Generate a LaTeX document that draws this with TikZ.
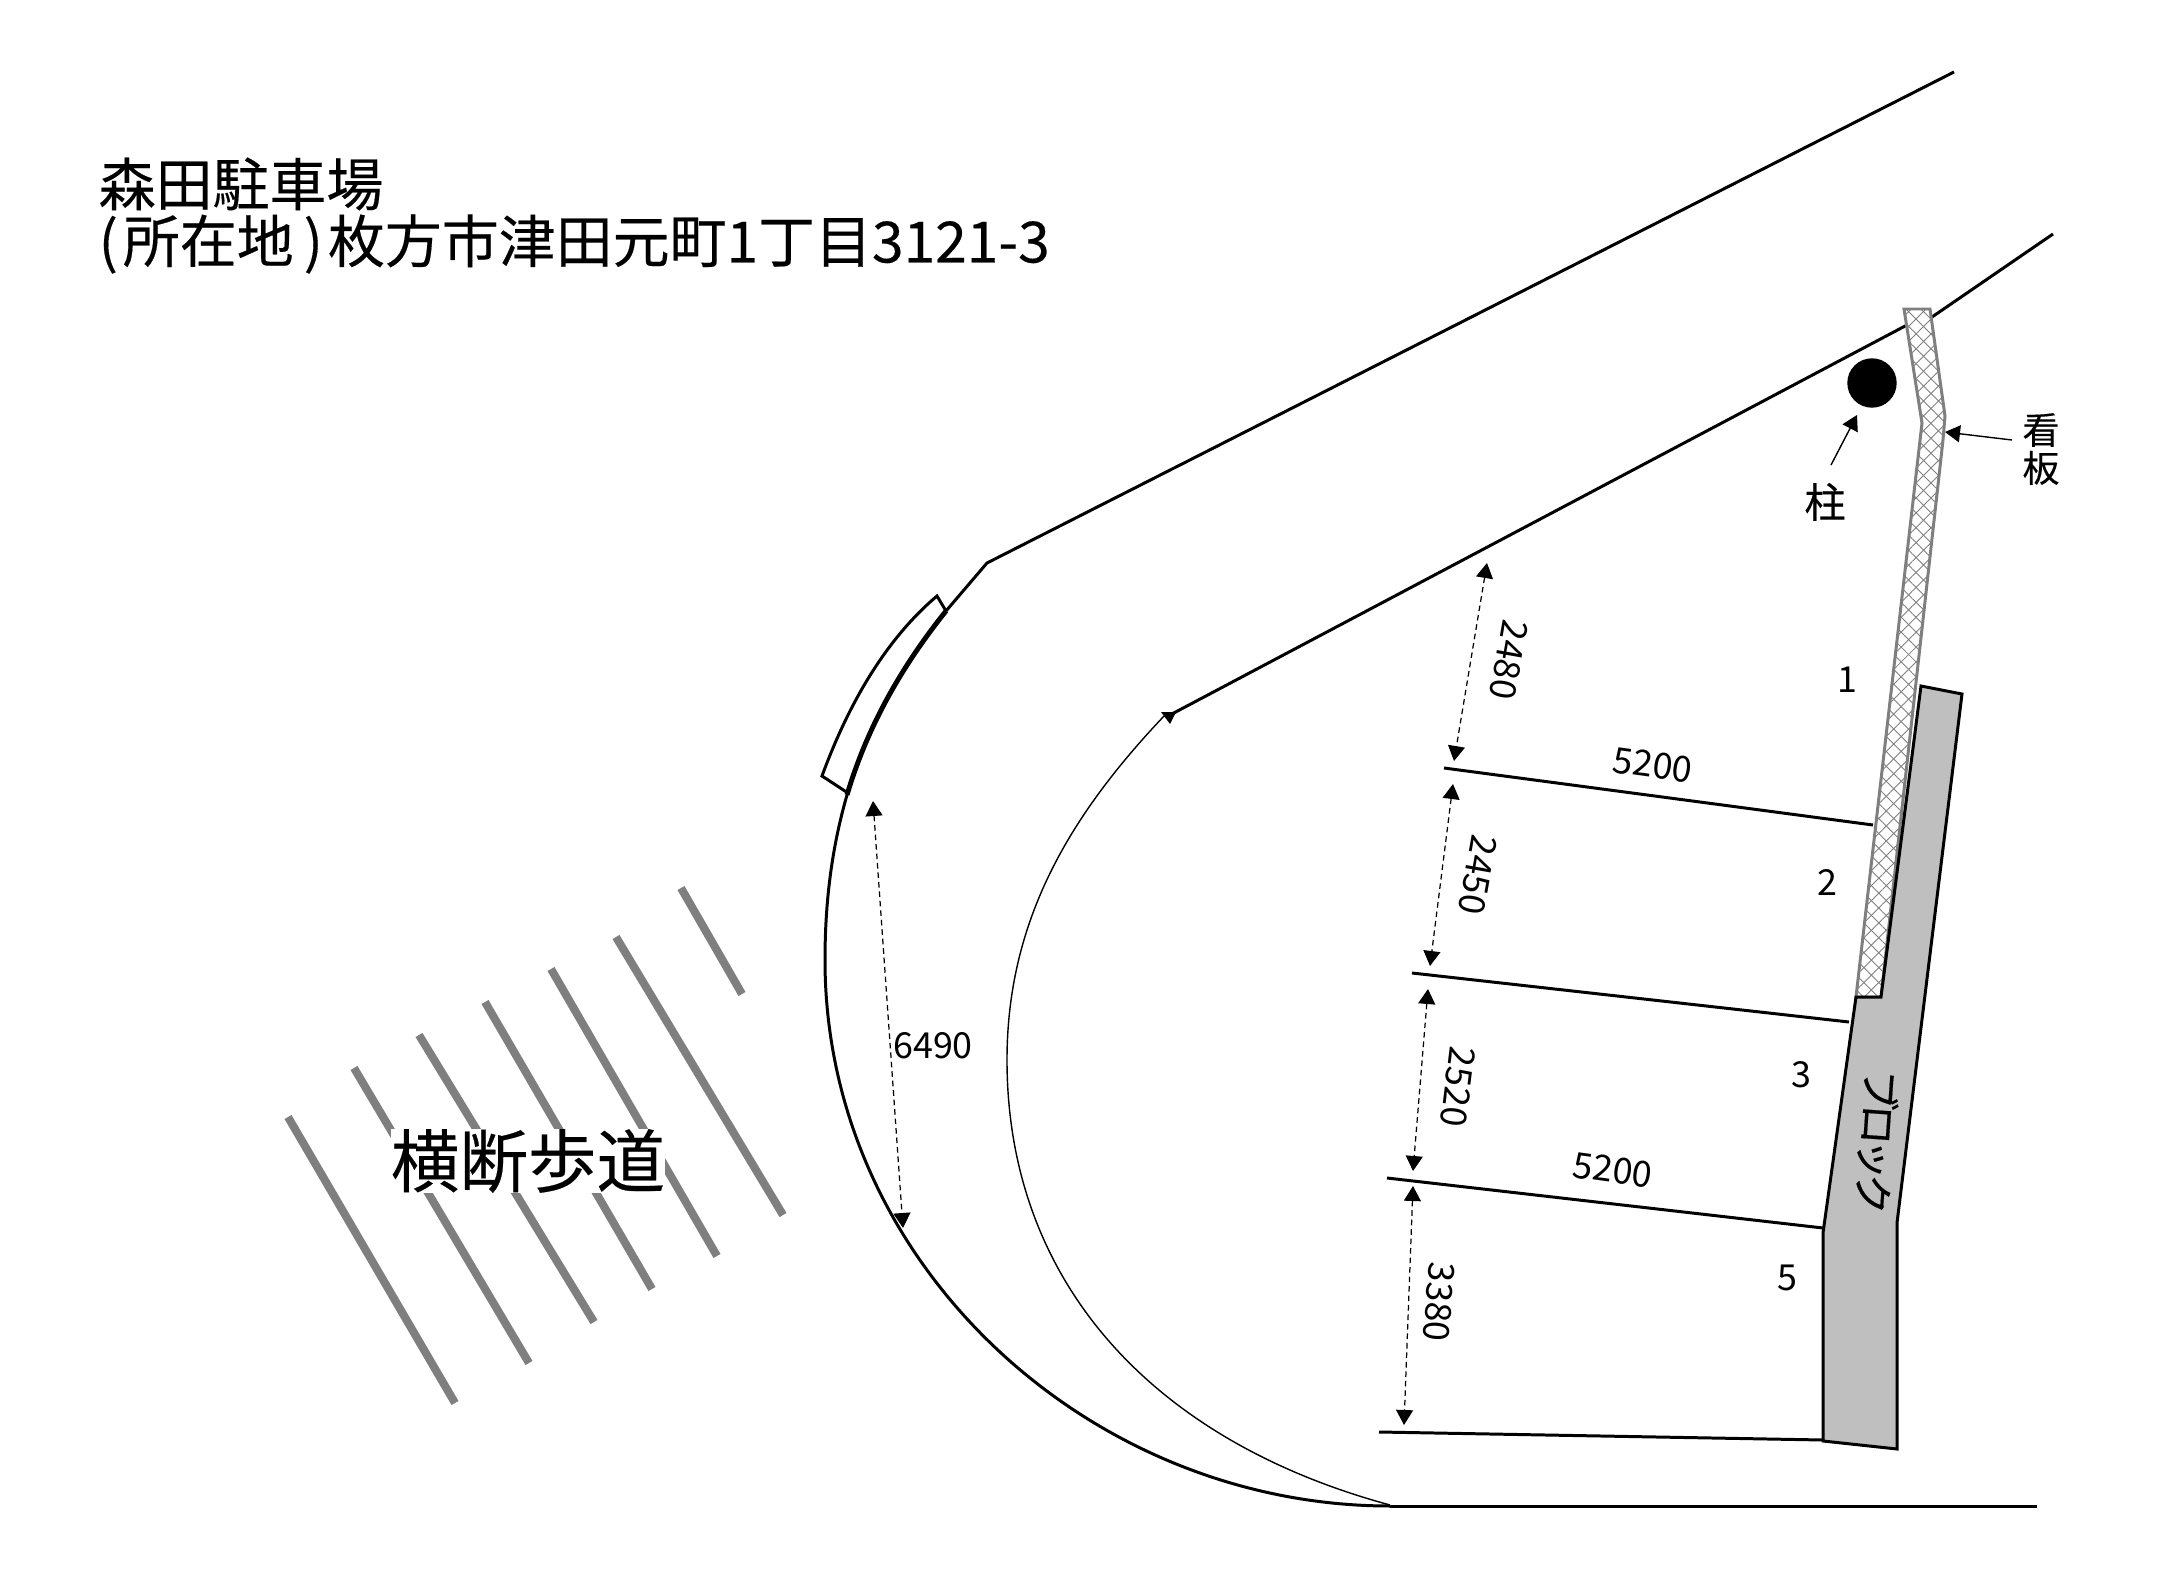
\documentclass[tikz,border=0pt]{standalone}
\usepackage{fontspec}
\setmainfont{Noto Sans CJK JP}
\newfontfamily\heavyfont[FakeBold=0.3]{Noto Sans CJK JP}
\newfontfamily\blockfont[FakeBold=0.4,LetterSpace=-14]{Noto Sans CJK JP}
\usepackage{tikz}
\usetikzlibrary{arrows.meta,patterns.meta}
\definecolor{signgray}{HTML}{7F7F7F}
\definecolor{blockgray}{HTML}{BFBFBF}
\tikzset{
    wall/.style = {
        draw,
        line width=0.85pt,
        line join=round
    },
    kerb/.style = {
        draw,
        line width=1.4pt
    },
    stripe/.style = {
        draw=signgray,
        line width=2.3pt
    },
    dimline/.style = {
        draw,
        <->,
        line width=0.35pt,
        dash pattern=on 1.6pt off 1.1pt
    },
    pointer/.style = {
        draw,
        ->,
        line width=0.4pt
    },
    dimtext/.style = {
        font=\fontsize{10.2}{12}\selectfont,
        inner sep=0pt
    },
    bigtext/.style = {
        font=\heavyfont\fontsize{16.2}{17}\selectfont,
        inner sep=0pt
    },
    >={Triangle[length=1.5mm,width=1.7mm]},
}

\begin{document}
\begin{tikzpicture}[x=1cm,y=-1cm]
    \useasboundingbox (0,0) rectangle (21.58,15.79);

    % road edges
    \path[wall] (19.54,0.72) -- (9.87,5.63) -- (9.46,6.11);
    \path[kerb] (9.46,6.11) .. controls (8.98,6.71) and (8.66,7.31) .. (8.47,7.95);
    \path[wall] (8.47,7.95) .. controls (8.32,8.47) and (8.25,9.01) .. (8.25,9.60);
    \path[wall] (8.25,9.60) .. controls (8.25,12.65) and (10.90,15.06) .. (13.90,15.06);
    \path[wall] (13.90,15.06) -- (20.37,15.06);
    \path[draw, line width=0.4pt] (11.65,7.15) .. controls (10.70,8.15) and (10.07,9.20) .. (10.07,10.60);
    \path[draw, line width=0.4pt] (10.07,10.60) .. controls (10.07,12.80) and (11.50,14.40) .. (13.90,15.05);
    \path[wall] (11.70,7.15) -- (19.07,3.25);
    \path[wall] (19.32,3.17) -- (20.53,2.34);
    \fill (11.61,7.12) -- (11.76,7.12) -- (11.70,7.24) -- cycle;

    % curb piece
    \path[wall, line join=miter] (8.48,7.93) -- (8.22,7.76)
        .. controls (8.48,7.05) and (8.85,6.40) .. (9.37,5.96) -- (9.46,6.11);

    % crossing
    \path[stripe] (2.88,11.17) -- (4.55,14.03);
    \path[stripe] (3.54,10.68) -- (5.29,13.63);
    \path[stripe] (4.19,10.35) -- (5.94,13.22);
    \path[stripe] (4.85,10.02) -- (6.52,12.89);
    \path[stripe] (5.51,9.69) -- (7.17,12.56);
    \path[stripe] (6.16,9.37) -- (7.83,12.15);
    \path[stripe] (6.81,8.88) -- (7.42,9.94);
    \node[bigtext, font=\heavyfont\fontsize{19.5}{21}\selectfont, fill=white] (crossing) at (5.28,11.61) {横断歩道};

    % sign and block
    \path[draw=signgray, fill=white, line width=0.85pt, line join=miter]
        (19.04,3.09) -- (19.30,3.09) -- (19.45,4.16) -- (19.43,4.40) -- (18.81,9.97)
        -- (18.56,9.97) -- (19.22,4.23) -- cycle;
    \path[pattern={Lines[angle=45,distance=3pt,line width=0.25pt]}, pattern color=signgray]
        (19.04,3.09) -- (19.30,3.09) -- (19.45,4.16) -- (19.43,4.40) -- (18.81,9.97)
        -- (18.56,9.97) -- (19.22,4.23) -- cycle;
    \path[pattern={Lines[angle=-45,distance=3pt,line width=0.25pt]}, pattern color=signgray]
        (19.04,3.09) -- (19.30,3.09) -- (19.45,4.16) -- (19.43,4.40) -- (18.81,9.97)
        -- (18.56,9.97) -- (19.22,4.23) -- cycle;
    \path[wall, fill=blockgray, line join=miter]
        (19.21,6.86) -- (19.62,6.94) -- (18.97,12.23) -- (18.97,14.49) -- (18.23,14.41)
        -- (18.23,12.33) -- (18.56,9.97) -- (18.81,9.97) -- cycle;

    % bay lines
    \path[wall] (14.44,7.68) -- (18.73,8.25);
    \path[wall] (14.12,9.73) -- (18.49,10.22);
    \path[wall] (13.87,11.78) -- (18.23,12.28);
    \path[wall] (13.79,14.32) -- (18.23,14.40);

    % dimensions
    \coordinate (d1a) at (14.87,5.63);
    \coordinate (d1b) at (14.54,7.61);
    \coordinate (d2a) at (14.53,7.84);
    \coordinate (d2b) at (14.30,9.66);
    \coordinate (d3a) at (14.28,9.89);
    \coordinate (d3b) at (14.13,11.71);
    \coordinate (d4a) at (14.13,11.86);
    \coordinate (d4b) at (14.04,14.25);
    \coordinate (d5a) at (8.73,8.01);
    \coordinate (d5b) at (9.03,12.28);
    \path[dimline] (d1a) -- (d1b);
    \path[dimline] (d2a) -- (d2b);
    \path[dimline] (d3a) -- (d3b);
    \path[dimline] (d4a) -- (d4b);
    \path[dimline] (d5a) -- (d5b);

    \node[dimtext, rotate=-100] (dim2480) at (15.09,6.60)   {2480};
    \node[dimtext, rotate=-100] (dim2450) at (14.78,8.75)   {2450};
    \node[dimtext, rotate=-97]  (dim2520) at (14.58,10.87)  {2520};
    \node[dimtext, rotate=-94]  (dim3380) at (14.39,13.02)  {3380};
    \node[dimtext, rotate=-8]   (widtha)  at (16.53,7.65)   {5200};
    \node[dimtext, rotate=-8]   (widthb)  at (16.13,11.70)  {5200};
    \node[dimtext]              (dim6490) at (9.33,10.46)   {6490};

    \node[dimtext] (bay1) at (18.47,6.80)  {1};
    \node[dimtext] (bay2) at (18.27,8.82)  {2};
    \node[dimtext] (bay3) at (18.01,10.75) {3};
    \node[dimtext] (bay5) at (17.87,12.78) {5};
    \node[dimtext, font=\blockfont\fontsize{11.5}{12}\selectfont, rotate=-94] (blocktext) at (18.77,11.42) {ブロック};

    % pillar and sign labels
    \node[draw, fill=black, shape=circle, minimum size=4.8mm, inner sep=0pt] (pillar) at (18.72,3.83) {};
    \node[dimtext, font=\heavyfont\fontsize{11.7}{13}\selectfont] (pillartext) at (18.25,5.02) {柱};
    \node[dimtext, font=\heavyfont\fontsize{10.5}{10.8}\selectfont, align=center] (signtext) at (20.41,4.49) {看\\板};
    \coordinate (pillartail) at (18.31,4.65);
    \coordinate (pillartip) at (18.57,4.15);
    \coordinate (signtail) at (20.12,4.40);
    \coordinate (signtip) at (19.45,4.32);
    \path[pointer] (pillartail) -- (pillartip);
    \path[pointer] (signtail) -- (signtip);

    % title
    \node[bigtext, anchor=west] (title) at (0.98,1.84) {森田駐車場};
    \node[bigtext, anchor=west] (address) at (0.98,2.44) {(\hspace{0.5mm}所在地\hspace{1mm})\hspace{0.5mm}枚方市津田元町1丁目3121-3};
\end{tikzpicture}
\end{document}
